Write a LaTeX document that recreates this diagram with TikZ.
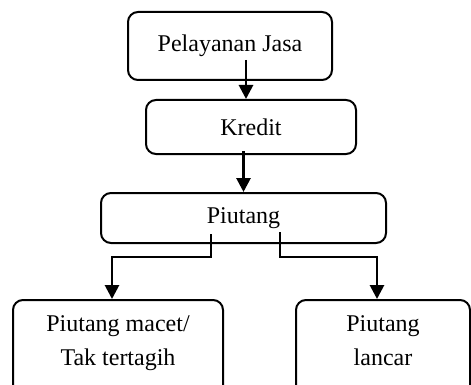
\documentclass[tikz,border=0pt]{standalone}
\usepackage{fontspec}
\setmainfont{Liberation Serif}
\usetikzlibrary{arrows.meta}
\begin{document}
\begin{tikzpicture}[x=0.5pt, y=-0.5pt,
  box/.style={shape=rectangle, draw=black, line width=1pt, rounded corners=5pt, align=center, font=\fontsize{12}{17}\selectfont},
  lowbox/.style={box, anchor=north, inner ysep=6.5pt, text height=26pt, text depth=23pt},
  arrow/.style={line width=1.4pt, -{Triangle[length=7pt, width=7pt]}}]
\useasboundingbox (0,0) rectangle (471,385);
\node[box, minimum width=102pt, minimum height=34pt] (jasa) at (230,46) {Pelayanan Jasa};
\node[box, minimum width=105pt, minimum height=27pt] (kredit) at (251,127) {Kredit};
\node[box, minimum width=142.5pt, minimum height=25pt] (piutang) at (243.5,218) {Piutang};
\node[lowbox, minimum width=105pt] (macet) at (118,299) {Piutang macet/\\Tak tertagih};
\node[lowbox, minimum width=87pt] (lancar) at (383,299) {Piutang\\lancar};
\draw[arrow] ([xshift=8pt, yshift=-7pt]jasa.center) -- ([xshift=8pt]jasa.center |- kredit.north);
\draw[arrow] ([yshift=2pt]kredit.south -| piutang.north) -- (piutang.north);
\draw[arrow] ([xshift=-16.25pt, yshift=5pt]piutang.south) -- ++(0,-11.5pt) -| ([xshift=-3pt]macet.north);
\draw[arrow] ([xshift=18.25pt, yshift=6pt]piutang.south) -- ++(0,-12.5pt) -| ([xshift=-3pt]lancar.north);
\end{tikzpicture}
\end{document}
